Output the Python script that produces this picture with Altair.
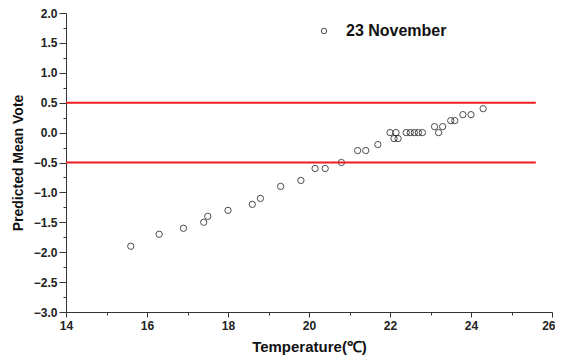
import altair as alt
import pandas as pd

temps = [15.6, 16.3, 16.9, 17.4, 17.5, 18.0, 18.6, 18.8, 19.3, 19.8,
         20.15, 20.4, 20.8, 21.2, 21.4, 21.7, 22.0, 22.15, 22.1, 22.2,
         22.4, 22.5, 22.6, 22.7, 22.8, 23.1, 23.2, 23.3, 23.5, 23.6,
         23.8, 24.0, 24.3]
pmv = [-1.9, -1.7, -1.6, -1.5, -1.4, -1.3, -1.2, -1.1, -0.9, -0.8,
       -0.6, -0.6, -0.5, -0.3, -0.3, -0.2, 0.0, 0.0, -0.1, -0.1,
       0.0, 0.0, 0.0, 0.0, 0.0, 0.1, 0.0, 0.1, 0.2, 0.2,
       0.3, 0.3, 0.4]
series = "23 November"
limits = [0.5, -0.5]
line_start = 14
line_end = 25.6
x_ticks = list(range(14, 27))
y_ticks = [-3 + 0.25 * i for i in range(21)]

df = pd.DataFrame({"t": temps, "v": pmv, "s": [series] * len(temps)})
lines = pd.DataFrame({"y": limits, "x1": [line_start] * 2, "x2": [line_end] * 2})

FONT = "Liberation Sans"
YMAJOR = "(datum.value * 4) % 2 == 0"

xaxis = alt.Axis(
    values=x_ticks,
    labelExpr="datum.value % 2 == 0 ? datum.value : ''",
    labelAlign={"condition": {"test": "datum.value == 26", "value": "right"}, "value": "center"},
    labelOffset={"condition": {"test": "datum.value == 26", "value": 3}, "value": 0},
    tickSize={"condition": {"test": "datum.value % 2 == 0", "value": 5}, "value": 3},
    grid=False, domainColor="#333", tickColor="#333", labelFont=FONT,
    labelFontWeight="bold", labelFontSize=12, labelColor="#222",
    title="Temperature(℃)", titleFont=FONT, titleFontSize=15, titleFontWeight="bold",
    titleColor="#111", titlePadding=8, labelPadding=3, labelFlush=False,
    labelOverlap=False,
)
yaxis = alt.Axis(
    values=y_ticks,
    labelExpr=YMAJOR + " ? format(datum.value, '.1f') : ''",
    tickSize={"condition": {"test": YMAJOR, "value": 7}, "value": 3},
    grid=False, domainColor="#333", tickColor="#333", labelFont=FONT,
    labelFontWeight="bold", labelFontSize=12, labelColor="#222",
    title="Predicted Mean Vote", titleFont=FONT, titleFontSize=14, titleFontWeight="bold",
    titleColor="#111", titlePadding=8, labelPadding=2, labelFlush=False,
    labelOverlap=False,
)

xs = alt.Scale(domain=[14, 26], nice=False, zero=False)
ys = alt.Scale(domain=[-3, 2], nice=False, zero=False)

pts = alt.Chart(df).mark_point(shape="circle", filled=False, size=40, strokeWidth=1).encode(
    x=alt.X("t:Q", scale=xs, axis=xaxis),
    y=alt.Y("v:Q", scale=ys, axis=yaxis),
    color=alt.Color("s:N", scale=alt.Scale(range=["#000000"]),
                    legend=alt.Legend(title=None, orient="none", legendX=250, legendY=10,
                                      labelFont=FONT, labelFontSize=16, labelFontWeight="bold",
                                      labelColor="#111", symbolSize=30, symbolStrokeWidth=1,
                                      labelOffset=14)),
)

rules = alt.Chart(lines).mark_rule(color="#ee1c1c", strokeWidth=2).encode(
    x=alt.X("x1:Q", scale=xs, axis=xaxis),
    x2="x2:Q",
    y=alt.Y("y:Q", scale=ys, axis=yaxis),
)

chart = alt.layer(pts, rules).properties(
    width=486, height=299,
    background="white",
    autosize=alt.AutoSizeParams(type="none"),
    padding={"left": 58, "top": 5, "right": 3, "bottom": 48},
).configure_view(stroke=None)

chart.save("out.html", embed_options={"renderer": "svg", "actions": False})
